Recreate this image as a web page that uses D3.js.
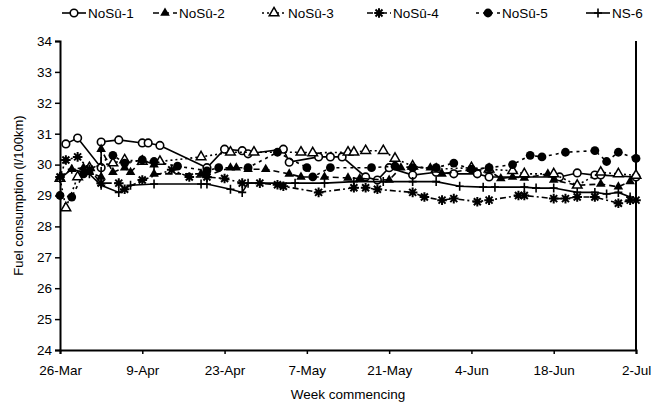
<!DOCTYPE html>
<html lang="en">
<head>
<meta charset="UTF-8">
<script src="https://cdnjs.cloudflare.com/ajax/libs/d3/7.8.4/d3.min.js"></script>
<title>Fuel consumption</title>
<style>
  body { margin: 0; background: #fff; }
  text { font-family: "Liberation Sans", Arial, sans-serif; fill: #000; }
</style>
</head>
<body>
<script>
// values are [days after 26-Mar, l/100km]
const nosu1 = [[1,30.67],[3,30.86],[7,29.9],[7,30.73],[10,30.8],[14,30.7],[15,30.7],[17,30.62],[25,29.9],[28,30.5],[31,30.45],[32,30.35],[38,30.5],[39,30.08],[44,30.25],[46,30.25],[48,30.25],[52,29.6],[54,29.5],[56,29.9],[60,29.66],[64,29.75],[67,29.7],[71,29.7],[73,29.6],[85,29.6],[88,29.73],[91,29.66],[92,29.66],[98,29.6]]
const nosu2 = [[0,29.6],[2,29.85],[4,29.9],[5,29.75],[7,29.6],[7,30.5],[9,29.75],[11,29.9],[12,29.75],[14,30.15],[16,30.0],[16,29.7],[24,29.7],[25,29.65],[29,29.9],[30,29.9],[32,29.85],[35,29.85],[39,29.7],[41,29.6],[45,29.6],[49,29.57],[51,29.55],[56,29.5],[58,29.9],[60,29.92],[63,29.9],[65,29.7],[70,29.85],[73,29.8],[75,29.55],[77,29.6],[79,29.57],[83,29.7],[84,29.5],[88,29.33],[92,29.37],[95,29.28],[97,29.45]]
const nosu3 = [[0,29.55],[1,28.6],[3,29.6],[5,29.9],[9,30.05],[11,30.15],[14,30.1],[17,30.1],[24,30.25],[29,30.4],[33,30.4],[41,30.4],[43,30.38],[49,30.4],[50,30.4],[52,30.45],[55,30.45],[57,30.2],[60,29.95],[64,29.85],[70,29.9],[73,29.85],[77,29.8],[79,29.7],[84,29.7],[88,29.33],[92,29.75],[95,29.7],[98,29.65]]
const nosu4 = [[0,29.6],[1,30.15],[3,30.25],[5,29.85],[7,29.4],[10,29.4],[11,29.2],[14,29.5],[19,29.83],[22,29.6],[25,29.6],[28,29.55],[31,29.4],[34,29.4],[37,29.35],[38,29.3],[44,29.1],[50,29.25],[52,29.25],[54,29.2],[60,29.1],[62,28.95],[65,28.85],[67,28.9],[71,28.8],[73,28.85],[78,29.0],[79,29.0],[84,28.9],[86,28.9],[88,28.95],[91,28.95],[95,28.75],[97,28.85],[98,28.85]]
const nosu5 = [[0,29.0],[2,28.95],[4,29.7],[9,30.3],[11,30.05],[14,30.15],[16,30.1],[20,29.95],[25,29.8],[27,29.9],[32,29.9],[37,30.4],[42,29.9],[43,29.6],[46,29.9],[53,29.9],[57,29.95],[60,29.9],[64,29.9],[67,30.05],[70,29.85],[73,29.9],[77,30.0],[80,30.3],[82,30.25],[86,30.4],[91,30.45],[93,30.1],[95,30.4],[98,30.2]]
const ns6 = [[0,29.55],[2,29.85],[5,29.7],[7,29.33],[10,29.1],[12,29.33],[16,29.37],[24,29.37],[25,29.37],[29,29.2],[31,29.1],[32,29.4],[40,29.4],[45,29.4],[50,29.45],[55,29.45],[60,29.45],[64,29.45],[68,29.3],[72,29.27],[74,29.27],[79,29.27],[81,29.24],[84,29.24],[88,29.1],[91,29.1],[93,29.05],[95,29.1],[97,28.95]]

const seriesNames = ["NoS\u00fb-1","NoS\u00fb-2","NoS\u00fb-3","NoS\u00fb-4","NoS\u00fb-5","NS-6"]
const weekTicks = ["26-Mar","9-Apr","23-Apr","7-May","21-May","4-Jun","18-Jun","2-Jul"]
const yTicks = [24,25,26,27,28,29,30,31,32,33,34]

const W = 663, H = 405
const svg = d3.select("body").append("svg").attr("width", W).attr("height", H)

const parse = d3.timeParse("%d-%b-%Y")
const tickDates = weekTicks.map(t => parse(t + "-2001"))
const start = tickDates[0]

const x = d3.scaleTime()
  .domain([start, tickDates[tickDates.length - 1]])
  .range([60, 636])
const y = d3.scaleLinear().domain([24, 34]).range([350, 41])

const xAxis = svg.append("g")
  .attr("transform", "translate(0,350)")
  .call(d3.axisBottom(x).tickValues(tickDates).tickFormat((d, i) => weekTicks[i]).tickSizeOuter(0).tickSize(4))
xAxis.selectAll("text").attr("dy", "1.3em").style("font-size", "13.5px")

const yAxis = svg.append("g")
  .attr("transform", "translate(60,0)")
  .call(d3.axisLeft(y).tickValues(yTicks).tickFormat(d3.format("d")).tickSizeOuter(0).tickSize(5))
yAxis.selectAll("text").attr("x", -8).style("font-size", "13.5px")
svg.selectAll(".domain").attr("stroke-width", 2)
svg.selectAll(".tick line").attr("stroke-width", 1.5)

// right border
svg.append("line").attr("x1", 636).attr("x2", 636).attr("y1", y(34)).attr("y2", y(24))
  .attr("stroke", "#000").attr("stroke-width", 2)

svg.append("text").attr("transform", "translate(23," + y(29) + ") rotate(-90)")
  .attr("text-anchor", "middle").style("font-size", "13px").text("Fuel consumption (l/100km)")
svg.append("text").attr("x", 348).attr("y", 399)
  .attr("text-anchor", "middle").style("font-size", "13.5px").text("Week commencing")

const sym = {
  openCircle: g => g.append("circle").attr("r", 3.8).attr("fill", "#fff").attr("stroke", "#000").attr("stroke-width", 1.6),
  fillTri: g => g.append("path").attr("d", d3.symbol(d3.symbolTriangle, 40)()).attr("fill", "#000"),
  openTri: g => g.append("path").attr("d", d3.symbol(d3.symbolTriangle, 40)()).attr("fill", "#fff").attr("stroke", "#000").attr("stroke-width", 1.5),
  star: g => g.append("path").attr("d", "M-4.8,0H4.8M0,-4.8V4.8M-3.5,-3.5L3.5,3.5M-3.5,3.5L3.5,-3.5").attr("stroke", "#000").attr("stroke-width", 2),
  fillCircle: g => g.append("circle").attr("r", 4.4).attr("fill", "#000"),
  plus: g => g.append("path").attr("d", "M-4,0H4M0,-4.5V4.5").attr("stroke", "#000").attr("stroke-width", 1.6)
}

const series = [
  { name: seriesNames[0], data: nosu1, dash: null, mark: sym.openCircle },
  { name: seriesNames[1], data: nosu2, dash: "6,4", mark: sym.fillTri },
  { name: seriesNames[2], data: nosu3, dash: "2,3", mark: sym.openTri },
  { name: seriesNames[3], data: nosu4, dash: "6,3,2,3", mark: sym.star },
  { name: seriesNames[4], data: nosu5, dash: "3,4", mark: sym.fillCircle },
  { name: seriesNames[5], data: ns6, dash: null, mark: sym.plus }
]

const dayX = d => x(d3.timeDay.offset(start, d[0]))
const line = d3.line().x(dayX).y(d => y(d[1]))

const plot = svg.append("g")
series.forEach(s => {
  plot.append("path").datum(s.data).attr("d", line)
    .attr("fill", "none").attr("stroke", "#000").attr("stroke-width", 1.6)
    .attr("stroke-dasharray", s.dash)
  s.data.forEach(d => {
    const g = plot.append("g").attr("transform", `translate(${dayX(d)},${y(d[1])})`)
    s.mark(g)
  })
})

// legend
const legendX = [62, 153, 262, 367, 476, 586]
series.forEach((s, i) => {
  const g = svg.append("g").attr("transform", `translate(${legendX[i]},13)`)
  g.append("line").attr("x1", 0).attr("x2", 24).attr("stroke", "#000").attr("stroke-width", 1.6)
    .attr("stroke-dasharray", s.dash)
  s.mark(g.append("g").attr("transform", "translate(12,0)"))
  g.append("text").attr("x", 26).attr("y", 5).style("font-size", "13.5px").text(s.name)
})
</script>
</body>
</html>
